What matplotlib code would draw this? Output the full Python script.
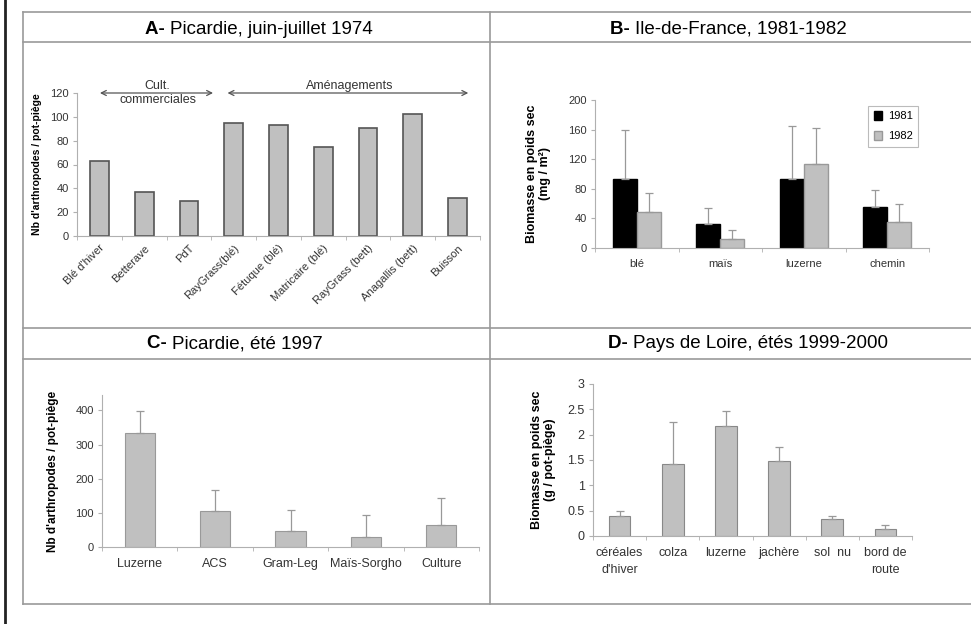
import matplotlib
matplotlib.use("Agg")
import matplotlib.pyplot as plt
from matplotlib.lines import Line2D
import numpy as np

plt.rcParams['font.family'] = ['Liberation Sans', 'DejaVu Sans']

# ---------------- data ----------------
a_cats = ["Blé d'hiver", "Betterave", "PdT", "RayGrass(blé)", "Fétuque (blé)",
          "Matricaire (blé)", "RayGrass (bett)", "Anagallis (bett)", "Buisson"]
a_vals = [63, 37, 29, 95, 93, 75, 91, 102, 32]

b_cats = ["blé", "maïs", "luzerne", "chemin"]
b_1981 = [93, 32, 93, 55]
b_1981_top = [160, 54, 165, 79]
b_1982 = [49, 12, 113, 35]
b_1982_top = [74, 24, 162, 60]

c_cats = ["Luzerne", "ACS", "Gram-Leg", "Maïs-Sorgho", "Culture"]
c_vals = [335, 105, 48, 30, 65]
c_top = [397, 168, 107, 95, 142]

d_cats = ["céréales\nd'hiver", "colza", "luzerne", "jachère", "sol  nu", "bord de\nroute"]
d_vals = [0.40, 1.43, 2.17, 1.48, 0.33, 0.14]
d_top = [0.49, 2.25, 2.46, 1.76, 0.40, 0.21]

W, H = 971, 624
fig = plt.figure(figsize=(W / 100, H / 100), dpi=100)
fig.patch.set_facecolor('white')


def rect(x0, y0, x1, y1):
    return [x0 / W, 1 - y1 / H, (x1 - x0) / W, (y1 - y0) / H]


def fx(x):
    return x / W


def fy(y):
    return 1 - y / H


# frame lines
frame_c = '#9a9a9a'
fig.add_artist(Line2D([fx(5), fx(5)], [fy(0), fy(624)], color='#222222', lw=2))
for (x0, y0, x1, y1) in [(23, 12, 971, 12), (23, 42, 971, 42), (23, 328, 971, 328),
                         (23, 359, 971, 359), (23, 604, 971, 604),
                         (23, 12, 23, 604), (490, 12, 490, 604)]:
    fig.add_artist(Line2D([fx(x0), fx(x1)], [fy(y0), fy(y1)], color=frame_c, lw=1.2))

# titles
def title(x, y, bold, rest):
    fig.text(fx(x), fy(y), bold + ' ', ha='right', va='center', fontsize=13.5, fontweight='bold')
    fig.text(fx(x), fy(y), rest, ha='left', va='center', fontsize=13.5)

title(170, 29, 'A-', 'Picardie, juin-juillet 1974')
title(635, 29, 'B-', 'Ile-de-France, 1981-1982')
title(172, 344, 'C-', 'Picardie, été 1997')
title(633, 344, 'D-', 'Pays de Loire, étés 1999-2000')

axis_c = '#b0b0b0'
bar_c = '#c0c0c0'


def style(ax, n):
    for s in ['top', 'right']:
        ax.spines[s].set_visible(False)
    ax.spines['left'].set_color(axis_c)
    ax.spines['bottom'].set_color(axis_c)
    ax.tick_params(axis='y', colors='#333333', labelsize=8, length=3, color=axis_c, pad=3)
    ax.tick_params(axis='x', colors='#333333', labelsize=8, length=0, pad=8)
    ax.set_xlim(-0.5, n - 0.5)
    ax.set_xticks(np.arange(n))
    ax.set_xticks(np.arange(n + 1) - 0.5, minor=True)
    ax.tick_params(axis='x', which='minor', length=3, color=axis_c)
    ax.patch.set_alpha(0)


# ---------- Panel A ----------
axA = fig.add_axes(rect(77, 93, 480, 236))
xa = np.arange(len(a_cats))
axA.bar(xa, a_vals, width=0.42, color=bar_c, edgecolor='#555555', linewidth=1.2)
style(axA, len(a_cats))
axA.set_ylim(0, 120)
axA.set_yticks(range(0, 121, 20))
axA.tick_params(axis='x', pad=5)
axA.set_xticklabels(a_cats, rotation=45, ha='right', rotation_mode='anchor', fontsize=8)
axA.set_ylabel("Nb d'arthropodes / pot-piège", fontsize=7.5, fontweight='bold', labelpad=6)
arr = dict(arrowstyle='<->', color='#555555', lw=0.9, mutation_scale=9)
axA.annotate('', xy=(-0.05, 120), xytext=(2.6, 120), arrowprops=arr, annotation_clip=False)
axA.annotate('', xy=(2.8, 120), xytext=(8.3, 120), arrowprops=arr, annotation_clip=False)
axA.text(1.3, 121, 'Cult.', ha='center', va='bottom', fontsize=9, color='#333333')
axA.text(1.3, 119, 'commerciales', ha='center', va='top', fontsize=9, color='#333333')
axA.text(5.6, 121, 'Aménagements', ha='center', va='bottom', fontsize=9, color='#333333')

# ---------- Panel B ----------
axB = fig.add_axes(rect(595, 100, 929, 248))
xb = np.arange(len(b_cats))
bw = 0.29
err_kw = dict(ecolor='#999999', elinewidth=0.9, capsize=3, capthick=0.9)
axB.bar(xb - bw / 2, b_1981, width=bw, color='black', edgecolor='black', label='1981',
        yerr=[np.zeros(4), np.array(b_1981_top) - np.array(b_1981)], error_kw=err_kw)
axB.bar(xb + bw / 2, b_1982, width=bw, color=bar_c, edgecolor='#999999', label='1982',
        yerr=[np.zeros(4), np.array(b_1982_top) - np.array(b_1982)], error_kw=err_kw)
style(axB, len(b_cats))
axB.set_ylim(0, 200)
axB.set_yticks(range(0, 201, 40))
axB.set_xticklabels(b_cats, fontsize=8)
axB.set_ylabel("Biomasse en poids sec\n(mg / m²)", fontsize=9, fontweight='bold', labelpad=12)
leg = axB.legend(loc='upper right', bbox_to_anchor=(0.985, 1.0), fontsize=8, frameon=True,
                 fancybox=False, edgecolor='#aaaaaa', handlelength=0.8, handleheight=0.8,
                 borderpad=0.5, labelspacing=0.9, handletextpad=0.5)
leg.get_frame().set_linewidth(0.8)

# ---------- Panel C ----------
axC = fig.add_axes(rect(102, 395, 479, 547))
xc = np.arange(len(c_cats))
axC.bar(xc, c_vals, width=0.4, color=bar_c, edgecolor='#999999', linewidth=0.8,
        yerr=[np.zeros(5), np.array(c_top) - np.array(c_vals)], error_kw=err_kw)
style(axC, len(c_cats))
axC.set_ylim(0, 445)
axC.set_yticks(range(0, 401, 100))
axC.set_xticklabels(c_cats, fontsize=9)
axC.set_ylabel("Nb d'arthropodes / pot-piège", fontsize=8.5, fontweight='bold', labelpad=12)

# ---------- Panel D ----------
axD = fig.add_axes(rect(593, 384, 912, 536))
xd = np.arange(len(d_cats))
axD.bar(xd, d_vals, width=0.41, color=bar_c, edgecolor='#888888', linewidth=0.8,
        yerr=[np.zeros(6), np.array(d_top) - np.array(d_vals)], error_kw=err_kw)
style(axD, len(d_cats))
axD.set_ylim(0, 3)
axD.set_yticks([0, 0.5, 1, 1.5, 2, 2.5, 3])
axD.set_yticklabels(['0', '0.5', '1', '1.5', '2', '2.5', '3'])
axD.tick_params(axis='y', labelsize=9)
axD.set_xticklabels(d_cats, fontsize=9, linespacing=1.5)
axD.set_ylabel("Biomasse en poids sec\n(g / pot-piège)", fontsize=9, fontweight='bold', labelpad=8)

fig.savefig('out.png', dpi=100, facecolor='white')
